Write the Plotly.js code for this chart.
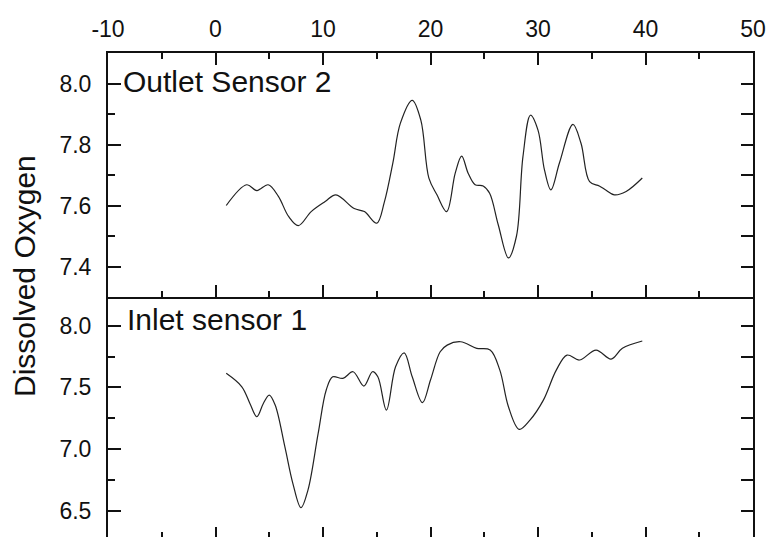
<!DOCTYPE html>
<html>
<head>
<meta charset="utf-8">
<script src="https://cdn.plot.ly/plotly-3.0.1.min.js"></script>
<style>
html,body{margin:0;padding:0;background:#fff;overflow:hidden;}
#chart{width:771px;height:537px;}
</style>
</head>
<body>
<div id="chart"></div>
<script>
// Outlet Sensor 2 (top panel)
const outletX = [1.0, 2.9, 3.85, 4.9, 5.85, 6.8, 7.7, 8.9, 10.2, 11.2, 12.9, 13.85, 15.0, 15.7, 16.5, 17.2, 18.3, 19.1, 19.85, 20.6, 21.5, 22.3, 22.9, 23.5, 24.15, 24.9, 25.5, 26.3, 27.25, 28.0, 28.6, 29.3, 30.0, 30.6, 31.2, 32.0, 33.25, 34.0, 34.8, 35.7, 36.3, 37.1, 38.2, 39.7];
const outletY = [7.60, 7.668, 7.649, 7.668, 7.63, 7.564, 7.534, 7.58, 7.613, 7.635, 7.59, 7.58, 7.542, 7.61, 7.74, 7.87, 7.945, 7.88, 7.69, 7.635, 7.58, 7.706, 7.762, 7.706, 7.668, 7.664, 7.64, 7.537, 7.428, 7.5, 7.76, 7.896, 7.847, 7.717, 7.651, 7.74, 7.866, 7.804, 7.678, 7.664, 7.651, 7.635, 7.646, 7.69];

// Inlet sensor 1 (bottom panel)
const inletX = [1.0, 2.45, 3.2, 3.85, 4.45, 5.0, 5.55, 6.45, 7.2, 7.95, 8.6, 9.55, 10.3, 10.9, 11.85, 12.8, 13.8, 14.6, 15.1, 15.9, 16.75, 17.55, 18.3, 19.25, 20.0, 20.9, 21.55, 22.8, 24.3, 25.55, 26.45, 27.25, 28.25, 29.25, 30.5, 31.7, 32.7, 33.85, 35.4, 36.8, 37.85, 39.7];
const inletY = [7.614, 7.505, 7.37, 7.262, 7.37, 7.438, 7.357, 7.019, 6.72, 6.524, 6.667, 7.127, 7.479, 7.586, 7.573, 7.627, 7.511, 7.627, 7.586, 7.316, 7.667, 7.78, 7.586, 7.376, 7.56, 7.789, 7.843, 7.87, 7.817, 7.803, 7.64, 7.343, 7.16, 7.235, 7.397, 7.64, 7.762, 7.722, 7.803, 7.73, 7.817, 7.876];

const xTickVals = [-10, 0, 10, 20, 30, 40, 50];
const xTickText = ["-10", "0", "10", "20", "30", "40", "50"];
const panelLabels = ["Outlet Sensor 2", "Inlet sensor 1"];
const yTitle = "Dissolved Oxygen";

const FONT = "Liberation Sans, Arial, sans-serif";
const INK = "#111";

const lineStyle = {color: "#222", width: 1.2, shape: "spline", smoothing: 1};

const traces = [
  {x: outletX, y: outletY, xaxis: "x", yaxis: "y", mode: "lines", line: lineStyle, hoverinfo: "skip", showlegend: false},
  {x: inletX, y: inletY, xaxis: "x2", yaxis: "y2", mode: "lines", line: lineStyle, hoverinfo: "skip", showlegend: false},
  {x: [], y: [], xaxis: "x", yaxis: "y3", mode: "lines", hoverinfo: "skip", showlegend: false},
  {x: [], y: [], xaxis: "x2", yaxis: "y4", mode: "lines", hoverinfo: "skip", showlegend: false}
];

const splitFrac = (537 - 297) / 484;
const topRange = [7.3, 8.1];
const botRange = [6.287, 8.233];

const layout = {
  width: 771, height: 537,
  margin: {l: 108, r: 18, t: 53, b: 0},
  paper_bgcolor: "#fff", plot_bgcolor: "#fff",
  font: {family: FONT, color: INK, size: 23},
  xaxis: {
    domain: [0, 1], anchor: "y", side: "top", range: [-10, 50],
    tickmode: "array", tickvals: xTickVals, ticktext: xTickText,
    ticks: "inside", ticklen: 12, tickwidth: 2, tickcolor: INK,
    minor: {dtick: 5, tick0: -10, ticks: "inside", ticklen: 6, tickwidth: 2, tickcolor: INK, showgrid: false},
    showline: true, linewidth: 2, linecolor: INK, mirror: "ticks",
    showgrid: false, zeroline: false,
    tickfont: {size: 23, family: FONT, color: INK},
    ticklabelstandoff: 5
  },
  xaxis2: {
    domain: [0, 1], anchor: "y2", range: [-10, 50],
    tickmode: "array", tickvals: xTickVals,
    ticks: "inside", ticklen: 10, tickwidth: 2, tickcolor: INK,
    minor: {dtick: 5, tick0: -10, ticks: "inside", ticklen: 5, tickwidth: 2, tickcolor: INK, showgrid: false},
    showline: false, showticklabels: false, showgrid: false, zeroline: false
  },
  yaxis: {
    domain: [splitFrac, 1], anchor: "x", range: topRange,
    dtick: 0.2, tick0: 0, tickformat: ".1f",
    ticks: "inside", ticklen: 13, tickwidth: 2, tickcolor: INK,
    minor: {dtick: 0.1, ticks: "inside", ticklen: 7, tickwidth: 2, tickcolor: INK, showgrid: false},
    showline: true, linewidth: 2, linecolor: INK,
    showgrid: false, zeroline: false,
    tickfont: {size: 23, family: FONT, color: INK},
    ticklabelstandoff: 10
  },
  yaxis2: {
    domain: [0, splitFrac], anchor: "x2", range: botRange,
    dtick: 0.5, tick0: 0, tickformat: ".1f",
    ticks: "inside", ticklen: 13, tickwidth: 2, tickcolor: INK,
    minor: {dtick: 0.25, ticks: "inside", ticklen: 7, tickwidth: 2, tickcolor: INK, showgrid: false},
    showline: true, linewidth: 2, linecolor: INK,
    showgrid: false, zeroline: false,
    tickfont: {size: 23, family: FONT, color: INK},
    ticklabelstandoff: 10
  },
  yaxis3: {
    overlaying: "y", anchor: "x", side: "right", range: topRange,
    tickmode: "array", tickvals: [7.4, 7.5, 7.6, 7.7, 7.8, 7.9, 8.0],
    ticks: "inside", ticklen: 12, tickwidth: 2, tickcolor: INK,
    showticklabels: false, showline: true, linewidth: 2, linecolor: INK,
    showgrid: false, zeroline: false
  },
  yaxis4: {
    overlaying: "y2", anchor: "x2", side: "right", range: botRange,
    tickmode: "array", tickvals: [6.5, 6.75, 7.0, 7.25, 7.5, 7.75, 8.0],
    ticks: "inside", ticklen: 12, tickwidth: 2, tickcolor: INK,
    showticklabels: false, showline: true, linewidth: 2, linecolor: INK,
    showgrid: false, zeroline: false
  },
  annotations: [
    {text: panelLabels[0], xref: "paper", yref: "paper", x: (121 - 108) / 645, y: (537 - 81) / 484,
     xanchor: "left", yanchor: "middle", showarrow: false, font: {size: 30, family: FONT, color: INK}},
    {text: panelLabels[1], xref: "paper", yref: "paper", x: (125 - 108) / 645, y: (537 - 319.5) / 484,
     xanchor: "left", yanchor: "middle", showarrow: false, font: {size: 30, family: FONT, color: INK}},
    {text: yTitle, xref: "paper", yref: "paper", x: (24 - 108) / 645, y: (537 - 276) / 484,
     xanchor: "center", yanchor: "middle", textangle: -90, showarrow: false, font: {size: 30, family: FONT, color: INK}}
  ]
};

Plotly.newPlot("chart", traces, layout, {displayModeBar: false, staticPlot: true});
</script>
</body>
</html>
